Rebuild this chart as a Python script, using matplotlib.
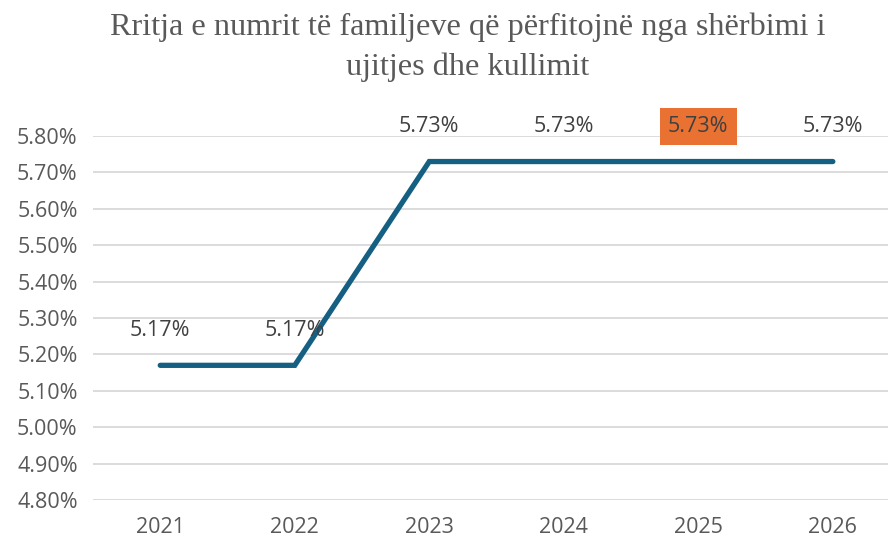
import matplotlib.pyplot as plt
from matplotlib.ticker import FuncFormatter

years = ["2021", "2022", "2023", "2024", "2025", "2026"]
values = [5.17, 5.17, 5.73, 5.73, 5.73, 5.73]
labels = ["5.17%", "5.17%", "5.73%", "5.73%", "5.73%", "5.73%"]
highlight = 4  # 2025 label has orange box
y_ticks = [4.8, 4.9, 5.0, 5.1, 5.2, 5.3, 5.4, 5.5, 5.6, 5.7, 5.8]

fig = plt.figure(figsize=(8.88, 5.44), dpi=100)
ax = fig.add_axes([0.1047, 0.0809, 0.8953, 0.669])

x = list(range(len(years)))
ax.plot(x, values, color="#156082", lw=3.8, solid_capstyle="round",
        solid_joinstyle="miter", zorder=3)

for i, (v, lab) in enumerate(zip(values, labels)):
    kw = {}
    if i == highlight:
        kw["bbox"] = dict(boxstyle="square,pad=0.38", fc="#E97132", ec="none")
    ax.annotate(lab, (i, v), xytext=(0, 25), textcoords="offset points",
                ha="center", va="center", fontsize=15.5, family="Open Sans",
                color="#404040", zorder=4, **kw)

ax.set_xlim(-0.5, 5.41)
ax.set_ylim(4.8, 5.8)
ax.set_yticks(y_ticks)
ax.yaxis.set_major_formatter(FuncFormatter(lambda v, p: f"{v:.2f}%"))
ax.set_xticks(x)
ax.set_xticklabels(years)
ax.grid(axis="y", color="#D9D9D9", lw=1.3)
ax.set_axisbelow(True)
for s in ax.spines.values():
    s.set_visible(False)
ax.tick_params(length=0, labelsize=15.5, labelcolor="#595959")
ax.tick_params(axis="y", pad=11)
ax.tick_params(axis="x", pad=12)
for t in ax.get_xticklabels() + ax.get_yticklabels():
    t.set_family("Open Sans")

fig.text(0.527, 0.977, "Rritja e numrit të familjeve që përfitojnë nga shërbimi i\nujitjes dhe kullimit",
         ha="center", va="top", fontsize=23.2, family="Liberation Serif",
         color="#595959", linespacing=1.45)

fig.savefig("out.png", dpi=100)
